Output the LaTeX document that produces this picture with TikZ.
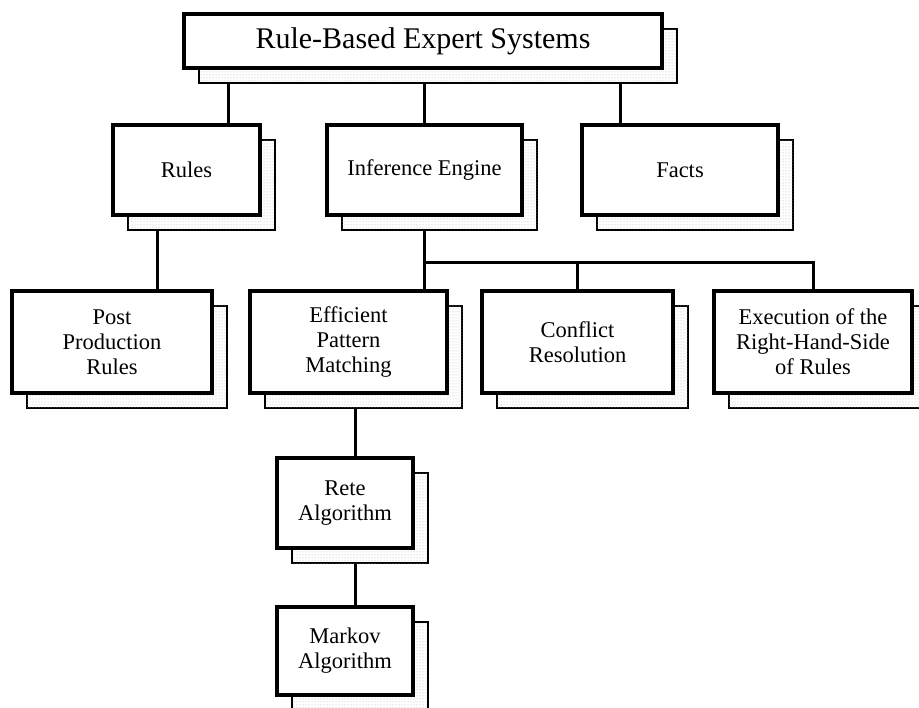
\documentclass[tikz,border=0pt]{standalone}
\usepackage{fontspec}
\setmainfont{Liberation Serif}
\usetikzlibrary{shadows,backgrounds,patterns}
\begin{document}
\begin{tikzpicture}[x=1pt,y=-1pt,
  box/.style={draw=black, line width=3.2pt, fill=white, inner sep=0pt, align=center,
    font=\fontsize{22.5}{25}\selectfont,
    copy shadow={shadow xshift=15pt, shadow yshift=-15pt, draw=black, line width=2.6pt,
      fill=white, postaction={pattern=dots, pattern color=black!30}}},
  link/.style={line width=3pt}]
\useasboundingbox (0,0) rectangle (919,708);

% top level
\node[box, font=\fontsize{30}{34}\selectfont, minimum width=478pt, minimum height=54pt]
  (title) at (423,41) {Rule-Based Expert Systems};

% second level
\node[box, minimum width=147pt, minimum height=90pt] (rules) at (186.5,170) {Rules};
\node[box, minimum width=195pt, minimum height=90pt] (inference) at (424.5,170) {Inference Engine};
\node[box, minimum width=196pt, minimum height=90pt] (facts) at (680,170) {Facts};

% third level
\node[box, minimum width=200pt, minimum height=102pt] (ppr) at (112,342) {Post\\Production\\Rules};
\node[box, minimum width=197pt, minimum height=102pt] (epm) at (348.5,342) {Efficient\\Pattern\\Matching};
\node[box, minimum width=191pt, minimum height=102pt] (conflict) at (577.5,342) {Conflict\\Resolution};
\node[box, minimum width=198pt, minimum height=102pt] (exec) at (813,342) {Execution of the\\Right-Hand-Side\\of Rules};

% pattern matching chain
\node[box, minimum width=136pt, minimum height=90pt] (rete) at (345,503) {Rete\\Algorithm};
\node[box, minimum width=136pt, minimum height=88pt] (markov) at (345,651) {Markov\\Algorithm};

% connectors, kept behind the boxes and their shadows
\begin{scope}[on background layer]
  \draw[link] ([xshift=41.5pt]rules.north) -- ([xshift=41.5pt]rules.north |- title.south);
  \draw[link] (inference.north) -- (inference.north |- title.south);
  \draw[link] ([xshift=-60pt]facts.north) -- ([xshift=-60pt]facts.north |- title.south);
  \draw[link] ([xshift=-29.5pt]rules.south) -- ([xshift=-29.5pt]rules.south |- ppr.north);
  \draw[link] (inference.south) -- (inference.south |- epm.north);
  \coordinate (bar) at (0,263);
  \draw[link] (inference.south |- bar) -| (exec.north);
  \draw[link] (conflict.north) -- (conflict.north |- bar);
  \draw[link] ([xshift=6.5pt]epm.south) -- ([xshift=6.5pt]epm.south |- rete.north);
  \draw[link] ([xshift=10pt]rete.south) -- ([xshift=10pt]rete.south |- markov.north);
\end{scope}
\end{tikzpicture}
\end{document}
